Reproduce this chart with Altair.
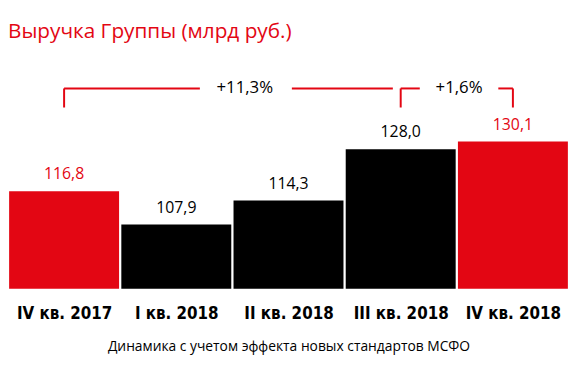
import altair as alt
import pandas as pd

categories = ["IV кв. 2017", "I кв. 2018", "II кв. 2018", "III кв. 2018", "IV кв. 2018"]
values = [116.8, 107.9, 114.3, 128.0, 130.1]
highlight = [True, False, False, False, True]
changes = ["+11,3%", "+1,6%"]

RED = "#e30613"

bars = pd.DataFrame({
    "idx": list(range(len(categories))),
    "cat": categories,
    "value": values,
    "hl": highlight,
})
bars["x0"] = bars["idx"] - 0.49
bars["x1"] = bars["idx"] + 0.49
bars["label"] = [f"{v:.1f}".replace(".", ",") for v in values]
bars["color"] = [RED if h else "#000000" for h in highlight]

# bracket segments (index positions) and change labels
seg = pd.DataFrame({
    "x": [0.0, 0.0, 2.03, 3.0, 3.0, 3.87, 4.0],
    "x2": [0.0, 1.21, 2.93, 3.0, 3.17, 4.0, 4.0],
    "y": [139.2, 144.3, 144.3, 139.2, 144.3, 144.3, 139.2],
    "y2": [144.3, 144.3, 144.3, 144.3, 144.3, 144.3, 144.3],
})
chg = pd.DataFrame({"x": [1.61, 3.52], "y": [144.3, 144.3], "t": changes})

Y0, Y1 = 90.7, 153.1
xs = alt.Scale(domain=[-0.5, len(categories) - 0.5], nice=False, zero=False)
ys = alt.Scale(domain=[Y0, Y1], nice=False, zero=False)

label_expr = "[" + ",".join(f"'{c}'" for c in categories) + "][datum.value]"

base = alt.Chart(bars)

bar_layer = base.mark_rect().encode(
    x=alt.X("x0:Q", scale=xs, axis=alt.Axis(
        values=list(range(len(categories))), labelExpr=label_expr,
        domain=False, ticks=False, grid=False, labelFont="DejaVu Sans Condensed",
        labelFontWeight="bold", labelFontSize=17, labelColor="#000000", labelPadding=17,
        title="Динамика с учетом эффекта новых стандартов МСФО",
        titleFont="Open Sans", titleFontWeight="normal", titleFontSize=14,
        titleColor="#000000", titlePadding=19)),
    x2="x1:Q",
    y=alt.Y("value:Q", scale=ys, axis=None),
    y2=alt.datum(Y0),
    color=alt.Color("color:N", scale=None),
)

lbl_layer = base.mark_text(font="Open Sans", fontSize=16, dy=-12, baseline="alphabetic").encode(
    x=alt.X("idx:Q", scale=xs),
    y=alt.Y("value:Q", scale=ys),
    text="label:N",
    color=alt.Color("color:N", scale=None),
)

rule_layer = alt.Chart(seg).mark_rule(color=RED, strokeWidth=2).encode(
    x=alt.X("x:Q", scale=xs), x2="x2:Q",
    y=alt.Y("y:Q", scale=ys), y2="y2:Q",
)

chg_layer = alt.Chart(chg).mark_text(font="Open Sans", fontSize=17, baseline="middle", color="#000000").encode(
    x=alt.X("x:Q", scale=xs),
    y=alt.Y("y:Q", scale=ys),
    text="t:N",
)

chart = alt.layer(bar_layer, rule_layer, chg_layer, lbl_layer).properties(
    width=568, height=236,
    title=alt.TitleParams("Выручка Группы (млрд руб.)", anchor="start", font="Open Sans",
                          fontSize=21, fontWeight="normal", color=RED, offset=14),
    padding={"left": 0, "right": 0, "top": 11, "bottom": 0},
).configure_view(stroke=None)

chart.save("out.html", embed_options={"renderer": "svg", "actions": False})
